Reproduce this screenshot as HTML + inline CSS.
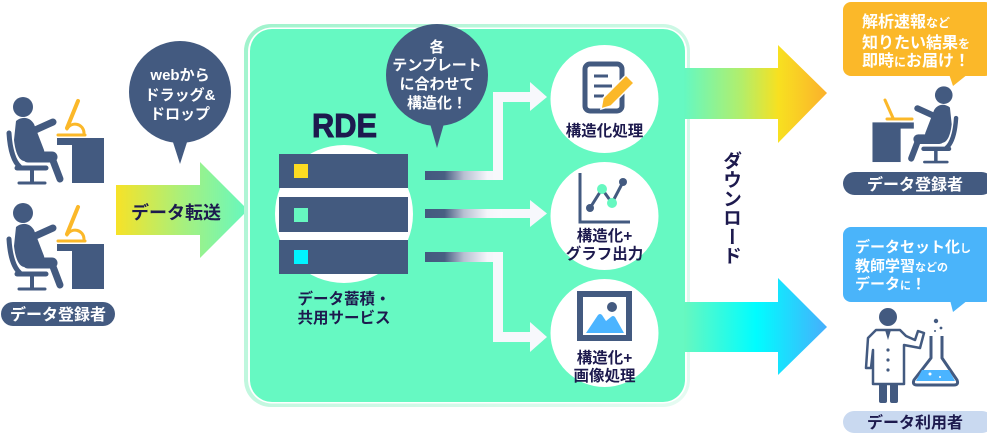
<!DOCTYPE html>
<html><head><meta charset="utf-8"><style>
html,body{margin:0;padding:0;background:#fff;}
body{width:987px;height:434px;overflow:hidden;position:relative;font-family:"Liberation Sans","Noto Sans CJK JP",sans-serif;}
svg{position:absolute;left:0;top:0;}
svg text{font-family:"Liberation Sans","Noto Sans CJK JP",sans-serif;font-weight:700;}
.dl{position:absolute;left:721px;top:151px;writing-mode:vertical-rl;font-size:19px;font-weight:700;color:#1d1a4e;letter-spacing:0px;line-height:22px;font-family:"Noto Sans CJK JP",sans-serif;}
</style></head><body>
<svg width="987" height="434" viewBox="0 0 987 434" xmlns="http://www.w3.org/2000/svg">
<defs>
<linearGradient id="gIn" x1="116" y1="0" x2="248" y2="0" gradientUnits="userSpaceOnUse">
<stop offset="0" stop-color="#f7e227"/><stop offset="0.5" stop-color="#a8f07c"/><stop offset="1" stop-color="#66f8c0"/></linearGradient>
<linearGradient id="gTop" x1="685" y1="0" x2="827" y2="0" gradientUnits="userSpaceOnUse">
<stop offset="0" stop-color="#66f8c0"/><stop offset="0.4" stop-color="#b3ee6a"/><stop offset="0.66" stop-color="#f8e020"/><stop offset="1" stop-color="#fbb12c"/></linearGradient>
<linearGradient id="gBot" x1="685" y1="0" x2="827" y2="0" gradientUnits="userSpaceOnUse">
<stop offset="0" stop-color="#66f8c0"/><stop offset="0.5" stop-color="#00fdff"/><stop offset="1" stop-color="#47aefc"/></linearGradient>
<linearGradient id="gBar" x1="425" y1="0" x2="503" y2="0" gradientUnits="userSpaceOnUse">
<stop offset="0" stop-color="#435a7f"/><stop offset="0.25" stop-color="#485e82"/><stop offset="0.5" stop-color="#b8c0d2"/><stop offset="0.8" stop-color="#f4f5fa"/><stop offset="1" stop-color="#f8f9fd"/></linearGradient>
<linearGradient id="gBorder" x1="244" y1="24" x2="690" y2="407" gradientUnits="userSpaceOnUse">
<stop offset="0" stop-color="#9ff3cc"/><stop offset="0.5" stop-color="#c9f8e3"/><stop offset="1" stop-color="#e6fbf2"/></linearGradient>
</defs>

<g id="person" fill="#435a80" stroke="none">
<circle cx="23" cy="107" r="10"/>
<path d="M16,121 C22,116 30,117 34,124 L44,150 C46,158 40,162 32,161 L24,161 C18,160 15,150 14,140 Z"/>
<line x1="33" y1="131" x2="53" y2="122" stroke="#435a80" stroke-width="7" stroke-linecap="round"/>
<line x1="28" y1="157" x2="52" y2="157" stroke="#435a80" stroke-width="11" stroke-linecap="round"/>
<line x1="52" y1="158" x2="60" y2="179" stroke="#435a80" stroke-width="7" stroke-linecap="round"/>
<path d="M9,133 C10,150 14,162 20,167" stroke="#435a80" stroke-width="5" fill="none" stroke-linecap="round"/>
<line x1="17" y1="168" x2="46" y2="168" stroke="#435a80" stroke-width="5" stroke-linecap="round"/>
<line x1="32" y1="168" x2="32" y2="182" stroke="#435a80" stroke-width="4"/>
<line x1="19" y1="183" x2="45" y2="183" stroke="#435a80" stroke-width="3" stroke-linecap="round"/>
<rect x="57" y="138" width="47" height="7"/>
<rect x="72" y="138" width="32" height="45"/>
<g stroke="#fbb829" fill="none" stroke-linecap="round">
<line x1="58" y1="135" x2="85" y2="135" stroke-width="3"/>
<path d="M67,129 A9,9 0 0 1 84,133" stroke-width="3"/>
<line x1="78" y1="101" x2="67" y2="128" stroke-width="4"/>
</g>
</g>
<use href="#person" transform="translate(0,106)"/>

<rect x="1" y="302" width="114" height="24" rx="12" fill="#435a80"/>
<text x="58" y="320" font-size="16" fill="#fff" text-anchor="middle">データ登録者</text>

<circle cx="180" cy="92" r="51" fill="#435a80"/>
<polygon points="171,136 189,136 180,164" fill="#435a80"/>
<text x="180" y="80" font-size="15" fill="#fff" text-anchor="middle">webから</text>
<text x="180" y="100" font-size="15" fill="#fff" text-anchor="middle">ドラッグ&amp;</text>
<text x="180" y="119" font-size="15" fill="#fff" text-anchor="middle">ドロップ</text>

<polygon points="116,185 200,185 200,162 248,210 200,258 200,235 116,235" fill="url(#gIn)"/>
<text x="176" y="219" font-size="18" fill="#1d1a4e" text-anchor="middle">データ転送</text>

<rect x="244" y="24" width="446" height="383" rx="27" fill="url(#gBorder)"/>
<rect x="248" y="27.5" width="439" height="376" rx="24" fill="#ffffff"/>
<rect x="250" y="29" width="435" height="373" rx="22" fill="#66f9c2"/>

<polygon points="684,68 778,68 778,45 827,93 778,143 778,119 684,119" fill="url(#gTop)"/>
<polygon points="684,302 778,302 778,278 827,327 778,375 778,352 684,352" fill="url(#gBot)"/>

<text x="312" y="137" font-size="33" fill="#1d1a4e" stroke="#1d1a4e" stroke-width="1" textLength="65" lengthAdjust="spacingAndGlyphs">RDE</text>
<circle cx="344" cy="214" r="69" fill="#fff"/>
<rect x="279" y="154" width="129" height="34" fill="#435a7f"/>
<rect x="279" y="197" width="129" height="35" fill="#435a7f"/>
<rect x="279" y="240" width="129" height="34" fill="#435a7f"/>
<rect x="294" y="164" width="14" height="14" fill="#fddc22"/>
<rect x="294" y="208" width="14" height="14" fill="#66f8c0"/>
<rect x="294" y="250" width="14" height="14" fill="#00f5ff"/>
<text x="344" y="304" font-size="15.5" fill="#1d1a4e" text-anchor="middle">データ蓄積・</text>
<text x="344" y="323" font-size="15.5" fill="#1d1a4e" text-anchor="middle">共用サービス</text>

<circle cx="437" cy="75" r="51" fill="#435a80"/>
<polygon points="429,120 445,120 437,148" fill="#435a80"/>
<text x="437" y="52" font-size="15" fill="#fff" text-anchor="middle">各</text>
<text x="437" y="70" font-size="15" fill="#fff" text-anchor="middle">テンプレート</text>
<text x="437" y="89" font-size="15" fill="#fff" text-anchor="middle">に合わせて</text>
<text x="437" y="108" font-size="15" fill="#fff" text-anchor="middle">構造化！</text>

<rect x="425" y="171" width="78" height="9" fill="url(#gBar)"/>
<rect x="493" y="92" width="10" height="88" fill="#f7f8fc"/>
<rect x="493" y="92" width="39" height="10" fill="#f7f8fc"/>
<polygon points="530,82 547,97 530,111" fill="#f7f8fc"/>

<rect x="425" y="209" width="78" height="9" fill="url(#gBar)"/>
<rect x="502" y="209" width="30" height="9" fill="#f7f8fc"/>
<polygon points="530,200 547,213.5 530,227" fill="#f7f8fc"/>

<rect x="425" y="252" width="78" height="10" fill="url(#gBar)"/>
<rect x="493" y="252" width="10" height="90" fill="#f7f8fc"/>
<rect x="493" y="332" width="39" height="10" fill="#f7f8fc"/>
<polygon points="530,322 547,337 530,352" fill="#f7f8fc"/>

<circle cx="604.5" cy="99" r="54" fill="#fff"/>
<circle cx="604.5" cy="216" r="54" fill="#fff"/>
<circle cx="604.5" cy="333" r="54" fill="#fff"/>

<rect x="585" y="64" width="37" height="47" rx="5" fill="#fff" stroke="#435a80" stroke-width="5"/>
<line x1="594" y1="76" x2="608" y2="76" stroke="#435a80" stroke-width="3"/>
<line x1="594" y1="86" x2="612" y2="86" stroke="#435a80" stroke-width="3"/>
<line x1="594" y1="96" x2="604" y2="96" stroke="#435a80" stroke-width="3"/>
<polygon points="626,75 634,83 611,106 601,109 603,98" fill="#fbb829" stroke="#fff" stroke-width="1.5"/>
<text x="604.5" y="136" font-size="15.5" fill="#1d1a4e" text-anchor="middle">構造化処理</text>

<polyline points="580,173 580,222 630,222" fill="none" stroke="#435a80" stroke-width="3"/>
<polyline points="590,208 602,189 612,203 623,182" fill="none" stroke="#435a80" stroke-width="3"/>
<circle cx="590" cy="208" r="4" fill="#435a80"/>
<circle cx="623" cy="182" r="4" fill="#435a80"/>
<circle cx="602" cy="189" r="5" fill="#66f8c0"/>
<circle cx="612" cy="203" r="5" fill="#66f8c0"/>
<text x="604.5" y="241" font-size="15.5" fill="#1d1a4e" text-anchor="middle">構造化+</text>
<text x="604.5" y="259" font-size="15.5" fill="#1d1a4e" text-anchor="middle">グラフ出力</text>

<rect x="580" y="294" width="49" height="44" fill="#fff" stroke="#435a80" stroke-width="6"/>
<circle cx="612" cy="307" r="5" fill="#435a80"/>
<path d="M586,333 L598,315 Q600,313 602,315 L606,321 L611,317 Q613,315 615,317 L624,333 Z" fill="#4bb4ff"/>
<text x="604.5" y="363" font-size="15.5" fill="#1d1a4e" text-anchor="middle">構造化+</text>
<text x="604.5" y="381" font-size="15.5" fill="#1d1a4e" text-anchor="middle">画像処理</text>

<rect x="843" y="2" width="150" height="74" rx="8" fill="#fbb829"/>
<polygon points="949,74 953,86 968,74" fill="#fbb829"/>
<text x="862" y="27" font-size="16" fill="#fff">解析速報<tspan font-size="12">など</tspan></text>
<text x="862" y="48" font-size="16" fill="#fff">知りたい結果<tspan font-size="12">を</tspan></text>
<text x="862" y="66" font-size="16" fill="#fff">即時<tspan font-size="12">に</tspan>お届け！</text>

<g fill="#435a80" transform="translate(964,1) scale(-0.88,0.88)">
<circle cx="23" cy="107" r="10"/>
<path d="M16,121 C22,116 30,117 34,124 L44,150 C46,158 40,162 32,161 L24,161 C18,160 15,150 14,140 Z"/>
<line x1="33" y1="131" x2="53" y2="122" stroke="#435a80" stroke-width="7" stroke-linecap="round"/>
<line x1="28" y1="157" x2="52" y2="157" stroke="#435a80" stroke-width="11" stroke-linecap="round"/>
<line x1="52" y1="158" x2="60" y2="179" stroke="#435a80" stroke-width="7" stroke-linecap="round"/>
<path d="M9,133 C10,150 14,162 20,167" stroke="#435a80" stroke-width="5" fill="none" stroke-linecap="round"/>
<line x1="17" y1="168" x2="46" y2="168" stroke="#435a80" stroke-width="5" stroke-linecap="round"/>
<line x1="32" y1="168" x2="32" y2="182" stroke="#435a80" stroke-width="4"/>
<line x1="19" y1="183" x2="45" y2="183" stroke="#435a80" stroke-width="3" stroke-linecap="round"/>
<rect x="57" y="138" width="47" height="7"/>
<rect x="72" y="138" width="32" height="45"/>
</g>
<line x1="885" y1="100" x2="893" y2="118" stroke="#fbb829" stroke-width="3" stroke-linecap="round"/>
<line x1="887" y1="119" x2="912" y2="119" stroke="#fbb829" stroke-width="3" stroke-linecap="round"/>

<rect x="843" y="172" width="150" height="23" rx="11.5" fill="#435a80"/>
<text x="915" y="190" font-size="16" fill="#fff" text-anchor="middle">データ登録者</text>

<rect x="843" y="227" width="150" height="75" rx="8" fill="#4ab4fa"/>
<polygon points="950,300 953,312 968,300" fill="#4ab4fa"/>
<text x="855" y="252" font-size="15" fill="#fff">データセット化<tspan font-size="11">し</tspan></text>
<text x="855" y="271" font-size="15" fill="#fff">教師学習<tspan font-size="11">などの</tspan></text>
<text x="855" y="289" font-size="15" fill="#fff">データ<tspan font-size="11">に</tspan>！</text>

<rect x="879" y="380" width="8" height="23" rx="2" fill="#435a80"/>
<rect x="890" y="380" width="8" height="23" rx="2" fill="#435a80"/>
<path d="M876,330 L900,330 L906,336 L915,340 L918,331 L924,333 L920,348 L904,345 L904,384 L873,384 L873,350 L871,368 L866,368 L868,338 Z" fill="#fff" stroke="#435a80" stroke-width="2.5" stroke-linejoin="round"/>
<circle cx="888" cy="317" r="9" fill="#435a80"/>
<polygon points="885,330 891,330 888,340" fill="#435a80"/>
<circle cx="888" cy="350" r="1.6" fill="#435a80"/>
<circle cx="888" cy="360" r="1.6" fill="#435a80"/>
<circle cx="888" cy="370" r="1.6" fill="#435a80"/>
<path d="M931,336 L931,358 L914,380 Q912,385 917,385 L954,385 Q959,385 957,380 L942,358 L942,336" fill="#fff" stroke="#435a80" stroke-width="3" stroke-linejoin="round"/>
<path d="M922,370 L949,370 L955,381 L916,381 Z" fill="#4bb4ff"/>
<circle cx="930" cy="374" r="1.5" fill="#fff"/>
<circle cx="940" cy="377" r="1" fill="#fff"/>
<circle cx="936" cy="321" r="2.2" fill="#435a80"/>
<circle cx="941" cy="328" r="1.4" fill="#435a80"/>
<circle cx="935" cy="331" r="1" fill="#435a80"/>

<rect x="843" y="411" width="150" height="22" rx="11" fill="#c9d9f0"/>
<text x="915" y="428" font-size="16" fill="#1d1a4e" text-anchor="middle">データ利用者</text>
</svg>
<div class="dl">ダウンロード</div>
</body></html>
